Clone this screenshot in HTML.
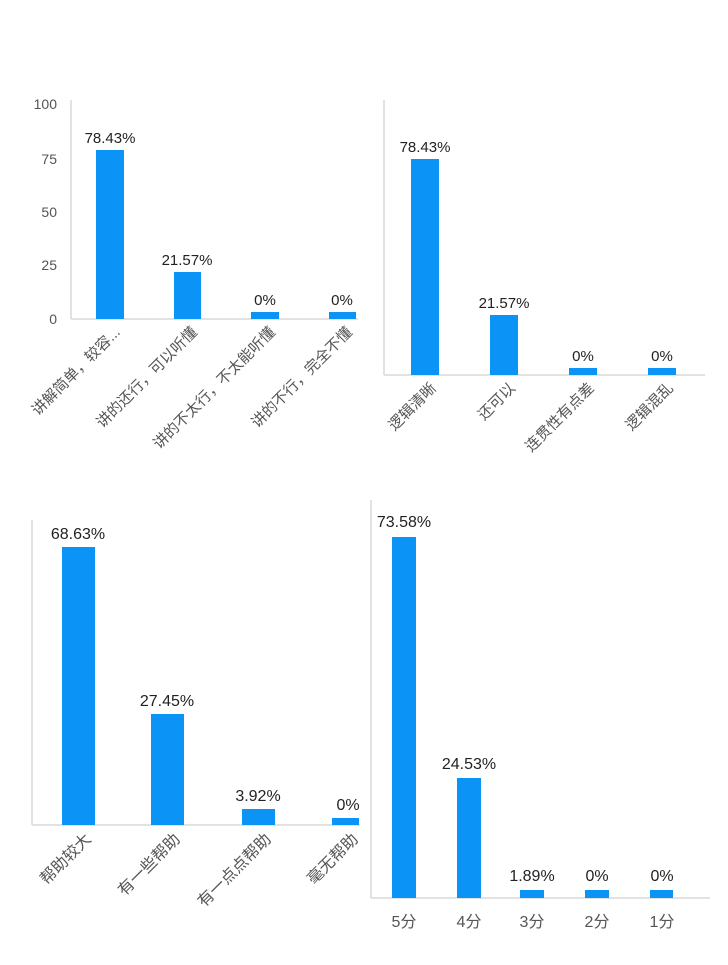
<!DOCTYPE html>
<html><head><meta charset="utf-8"><style>
html,body{margin:0;padding:0;background:#fff;}
svg text{font-family:"Liberation Sans","Noto Sans CJK SC",sans-serif;}
</style></head><body>
<svg width="728" height="960" viewBox="0 0 728 960" xmlns="http://www.w3.org/2000/svg">
<g stroke="#d8d8d8" stroke-width="1.5" fill="none">
<line x1="71" y1="100" x2="71" y2="319"/><line x1="71" y1="319" x2="358" y2="319"/>
<line x1="384" y1="100" x2="384" y2="375"/><line x1="384" y1="375" x2="705" y2="375"/>
<line x1="32" y1="520" x2="32" y2="825"/><line x1="32" y1="825" x2="360" y2="825"/>
<line x1="371" y1="500" x2="371" y2="898"/><line x1="371" y1="898" x2="710" y2="898"/>
</g>
<g fill="#0b93f6">
<rect x="96" y="150" width="28" height="169"/><rect x="174" y="272" width="27" height="47"/>
<rect x="251" y="312" width="28" height="7"/><rect x="329" y="312" width="27" height="7"/>
<rect x="411" y="159" width="28" height="216"/><rect x="490" y="315" width="28" height="60"/>
<rect x="569" y="368" width="28" height="7"/><rect x="648" y="368" width="28" height="7"/>
<rect x="62" y="547" width="33" height="278"/><rect x="151" y="714" width="33" height="111"/>
<rect x="242" y="809" width="33" height="16"/><rect x="332" y="818" width="27" height="7"/>
<rect x="392" y="537" width="24" height="361"/><rect x="457" y="778" width="24" height="120"/>
<rect x="520" y="890" width="24" height="8"/><rect x="585" y="890" width="24" height="8"/><rect x="650" y="890" width="23" height="8"/>
</g>
<g font-size="14" fill="#555" text-anchor="end">
<text x="57" y="109">100</text><text x="57" y="164">75</text><text x="57" y="217">50</text><text x="57" y="270">25</text><text x="57" y="324">0</text>
</g>
<g font-size="15" fill="#222" text-anchor="middle">
<text x="110" y="143">78.43%</text><text x="187" y="265">21.57%</text><text x="265" y="305">0%</text><text x="342" y="305">0%</text>
<text x="425" y="152">78.43%</text><text x="504" y="308">21.57%</text><text x="583" y="361">0%</text><text x="662" y="361">0%</text>
</g>
<g font-size="16" fill="#222" text-anchor="middle">
<text x="78" y="539">68.63%</text><text x="167" y="706">27.45%</text><text x="258" y="801">3.92%</text><text x="348" y="810">0%</text>
<text x="404" y="527">73.58%</text><text x="469" y="769">24.53%</text><text x="532" y="881">1.89%</text><text x="597" y="881">0%</text><text x="662" y="881">0%</text>
</g>
<g font-size="15" fill="#555" text-anchor="end">
<text transform="translate(121,333) rotate(-45)">讲解简单，较容...</text>
<text transform="translate(198,333) rotate(-45)">讲的还行，可以听懂</text>
<text transform="translate(276,333) rotate(-45)">讲的不太行，不太能听懂</text>
<text transform="translate(353,333) rotate(-45)">讲的不行，完全不懂</text>
<text transform="translate(437,389) rotate(-45)">逻辑清晰</text>
<text transform="translate(516,389) rotate(-45)">还可以</text>
<text transform="translate(595,389) rotate(-45)">连贯性有点差</text>
<text transform="translate(674,389) rotate(-45)">逻辑混乱</text>
</g>
<g font-size="16" fill="#555" text-anchor="end">
<text transform="translate(92,840) rotate(-45)">帮助较大</text>
<text transform="translate(181,840) rotate(-45)">有一些帮助</text>
<text transform="translate(272,840) rotate(-45)">有一点点帮助</text>
<text transform="translate(359,840) rotate(-45)">毫无帮助</text>
</g>
<g font-size="16" fill="#555" text-anchor="middle">
<text x="404" y="927">5分</text><text x="469" y="927">4分</text><text x="532" y="927">3分</text><text x="597" y="927">2分</text><text x="662" y="927">1分</text>
</g>
</svg>
</body></html>
